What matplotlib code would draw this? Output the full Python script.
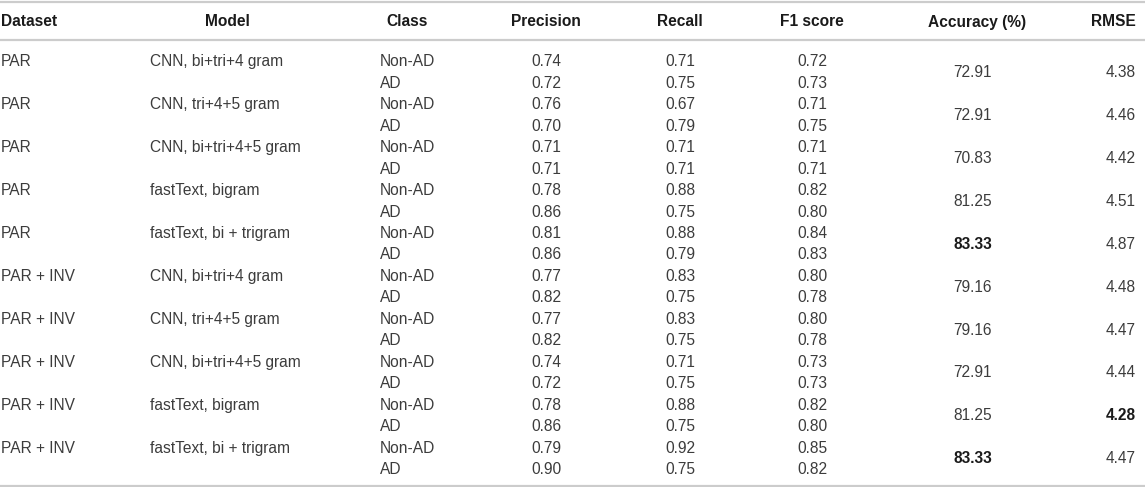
import matplotlib
matplotlib.use("Agg")
import matplotlib.pyplot as plt

headers = ["Dataset", "Model", "Class", "Precision", "Recall", "F1 score", "Accuracy (%)", "RMSE"]
datasets = ["PAR", "PAR", "PAR", "PAR", "PAR",
            "PAR + INV", "PAR + INV", "PAR + INV", "PAR + INV", "PAR + INV"]
models = ["CNN, bi+tri+4 gram", "CNN, tri+4+5 gram", "CNN, bi+tri+4+5 gram",
          "fastText, bigram", "fastText, bi + trigram",
          "CNN, bi+tri+4 gram", "CNN, tri+4+5 gram", "CNN, bi+tri+4+5 gram",
          "fastText, bigram", "fastText, bi + trigram"]
classes = ["Non-AD", "AD"]
precision = [[0.74, 0.72], [0.76, 0.70], [0.71, 0.71], [0.78, 0.86], [0.81, 0.86],
             [0.77, 0.82], [0.77, 0.82], [0.74, 0.72], [0.78, 0.86], [0.79, 0.90]]
recall = [[0.71, 0.75], [0.67, 0.79], [0.71, 0.71], [0.88, 0.75], [0.88, 0.79],
          [0.83, 0.75], [0.83, 0.75], [0.71, 0.75], [0.88, 0.75], [0.92, 0.75]]
f1 = [[0.72, 0.73], [0.71, 0.75], [0.71, 0.71], [0.82, 0.80], [0.84, 0.83],
      [0.80, 0.78], [0.80, 0.78], [0.73, 0.73], [0.82, 0.80], [0.85, 0.82]]
accuracy = [72.91, 72.91, 70.83, 81.25, 83.33, 79.16, 79.16, 72.91, 81.25, 83.33]
rmse = [4.38, 4.46, 4.42, 4.51, 4.87, 4.48, 4.47, 4.44, 4.28, 4.47]
bold_acc = [4, 9]
bold_rmse = [8]

W, H = 1145, 487
fig = plt.figure(figsize=(W / 100, H / 100), dpi=100)
ax = fig.add_axes([0, 0, 1, 1])
ax.set_xlim(0, W)
ax.set_ylim(H, 0)
ax.axis("off")

plt.rcParams['font.family'] = ['Liberation Sans', 'DejaVu Sans']
fs = 11.2
txt_col = "#3c3c3c"
hdr_col = "#1a1a1a"
line_col = "#cccccc"

# column anchors (x, ha)
cols = [(1, "left"), (150, "left"), (380, "left"), (546, "center"),
        (680, "center"), (812, "center"), (973, "center"), (1136, "right")]
hdr_cols = [(1, "left"), (227, "center"), (407, "center"), (546, "center"),
            (680, "center"), (812, "center"), (977, "center"), (1136, "right")]

hdr_base = 26.5
row0 = 66.3
step = 21.46

# rules
ax.plot([0, W], [1.5, 1.5], color=line_col, lw=1.6, solid_capstyle="butt")
ax.plot([0, W], [39.5, 39.5], color=line_col, lw=1.6, solid_capstyle="butt")
ax.plot([0, W], [485.5, 485.5], color=line_col, lw=1.6, solid_capstyle="butt")

for (x, ha), h in zip(hdr_cols, headers):
    ax.text(x, hdr_base, h, ha=ha, va="baseline", fontsize=fs,
            fontweight="bold", color=hdr_col)

for i in range(len(datasets)):
    y1 = row0 + step * (2 * i)
    y2 = y1 + step
    ym = (y1 + y2) / 2
    ax.text(cols[0][0], y1, datasets[i], ha="left", va="baseline", fontsize=fs, color=txt_col)
    ax.text(cols[1][0], y1, models[i], ha="left", va="baseline", fontsize=fs, color=txt_col)
    for j, y in enumerate((y1, y2)):
        ax.text(cols[2][0], y, classes[j], ha="left", va="baseline", fontsize=fs, color=txt_col)
        ax.text(cols[3][0], y, f"{precision[i][j]:.2f}", ha="center", va="baseline", fontsize=fs, color=txt_col)
        ax.text(cols[4][0], y, f"{recall[i][j]:.2f}", ha="center", va="baseline", fontsize=fs, color=txt_col)
        ax.text(cols[5][0], y, f"{f1[i][j]:.2f}", ha="center", va="baseline", fontsize=fs, color=txt_col)
    ba = i in bold_acc
    br = i in bold_rmse
    ax.text(cols[6][0], ym, f"{accuracy[i]:.2f}", ha="center", va="baseline", fontsize=fs,
            color=hdr_col if ba else txt_col, fontweight="bold" if ba else "normal")
    ax.text(cols[7][0], ym, f"{rmse[i]:.2f}", ha="right", va="baseline", fontsize=fs,
            color=hdr_col if br else txt_col, fontweight="bold" if br else "normal")

fig.savefig("out.png", dpi=100)
